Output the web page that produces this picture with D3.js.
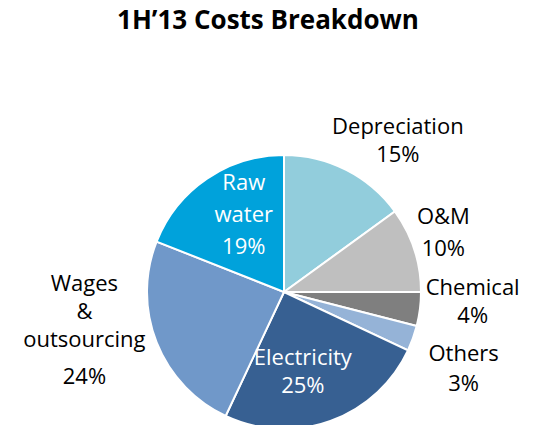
<!DOCTYPE html>
<html>
<head>
<meta charset="utf-8">
<script src="https://cdn.jsdelivr.net/npm/d3@7"></script>
<style>
  body { margin: 0; background: #fff; }
  text { font-family: "Open Sans", Lato, sans-serif; }
</style>
</head>
<body>
<div id="chart"></div>
<script>
// Data (clockwise from 12 o'clock)
var categories = ["Depreciation", "O&M", "Chemical", "Others", "Electricity", "Wages & outsourcing", "Raw water"];
var shares = [15, 10, 4, 3, 25, 24, 19];
var colors = ["#92CDDC", "#BFBFBF", "#7F7F7F", "#95B3D7", "#376092", "#7098C9", "#00A2DB"];

// label text broken into lines, like in the picture
var labelLines = [
  ["Depreciation"],
  ["O&M"],
  ["Chemical"],
  ["Others"],
  ["Electricity"],
  ["Wages", "&", "outsourcing"],
  ["Raw", "water"]
];
var insideLabel = [false, false, false, false, true, false, true];
// small nudges so labels sit where the original put them
var nudge = [[33, 8], [-10, -4], [12, -12], [12, 17], [-9, 3], [-34, -27], [6, -9]];
var lineGap = [28, 32, 28, 30, 28, 28, 32];
var valueGap = [0, 0, 0, 0, 0, 9, 0];

var width = 534, height = 425;
var cx = 284, cy = 292, radius = 137;

var svg = d3.select("#chart")
  .append("svg")
  .attr("width", width)
  .attr("height", height);

// Title
svg.append("text")
  .attr("x", 268)
  .attr("y", 29)
  .attr("text-anchor", "middle")
  .style("font-size", "26px")
  .style("font-weight", "bold")
  .text("1H\u201913 Costs Breakdown");

var slices = categories.map(function(c, i) {
  return { name: c, value: shares[i], color: colors[i], lines: labelLines[i],
           inside: insideLabel[i], nudge: nudge[i], lh: lineGap[i], vg: valueGap[i] };
});

var pie = d3.pie()
  .sort(null)
  .value(function(d) { return d.value; });

var arc = d3.arc()
  .innerRadius(0)
  .outerRadius(radius);

var outerLabelArc = d3.arc().innerRadius(radius * 1.3).outerRadius(radius * 1.3);
var innerLabelArc = d3.arc().innerRadius(radius * 0.6).outerRadius(radius * 0.6);

var g = svg.append("g")
  .attr("transform", "translate(" + cx + "," + cy + ")");

g.selectAll(".slice")
  .data(pie(slices))
  .enter()
  .append("path")
  .attr("class", "slice")
  .attr("d", arc)
  .attr("fill", function(d) { return d.data.color; })
  .attr("stroke", "#fff")
  .attr("stroke-width", 2);

// Labels
var labels = g.selectAll(".label")
  .data(pie(slices))
  .enter()
  .append("text")
  .attr("class", "label")
  .attr("text-anchor", "middle")
  .style("font-size", "22px")
  .attr("fill", function(d) { return d.data.inside ? "#fff" : "#000"; })
  .attr("transform", function(d) {
    var p = (d.data.inside ? innerLabelArc : outerLabelArc).centroid(d);
    return "translate(" + (p[0] + d.data.nudge[0]) + "," + (p[1] + d.data.nudge[1]) + ")";
  });

labels.each(function(d) {
  var lines = d.data.lines.concat([d.data.value + "%"]);
  var lh = d.data.lh;
  var sel = d3.select(this);
  var total = (lines.length - 1) * lh + d.data.vg;
  var top = -total / 2;
  lines.forEach(function(t, i) {
    var y = top + i * lh + (i === lines.length - 1 ? d.data.vg : 0);
    sel.append("tspan")
      .attr("x", 0)
      .attr("y", y + 7)
      .text(t);
  });
});
</script>
</body>
</html>
